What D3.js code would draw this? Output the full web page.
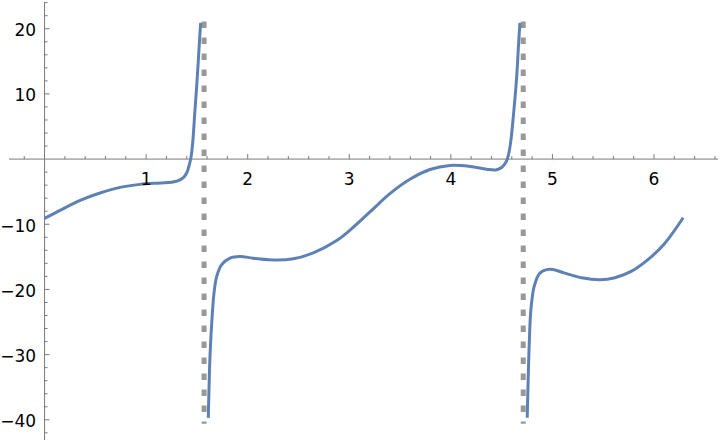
<!DOCTYPE html>
<html>
<head>
<meta charset="utf-8">
<script src="https://cdn.jsdelivr.net/npm/d3@7"></script>
<style>
  body { margin: 0; background: #fff; }
  text { font-family: "DejaVu Sans", sans-serif; font-size: 17px; fill: #000; }
</style>
</head>
<body>
<div id="chart-root"></div>
<script>
// curve pieces, split at the exclusions
const branchLeft = [
  [0, -9.1], [0.153, -7.86], [0.35, -6.34], [0.546, -5.21], [0.743, -4.34],
  [0.94, -3.88], [1.137, -3.67], [1.25, -3.55], [1.31, -3.35], [1.366, -2.85],
  [1.40, -2.1], [1.425, -0.9], [1.442, 0.3], [1.459, 2.6], [1.481, 7.55],
  [1.504, 12.65], [1.524, 17.8], [1.537, 20.9],
]
const branchMiddle = [
  [1.612, -39.7], [1.619, -35.3], [1.629, -30.2], [1.646, -25.1], [1.668, -20.6],
  [1.695, -18.0], [1.744, -16.2], [1.826, -15.2], [1.924, -14.96], [2.055, -15.2],
  [2.285, -15.5], [2.449, -15.3], [2.646, -14.4], [2.876, -12.5], [3.007, -10.9],
  [3.204, -8.1], [3.40, -5.3], [3.597, -3.1], [3.794, -1.6], [3.99, -0.98],
  [4.188, -1.13], [4.352, -1.55], [4.44, -1.66], [4.50, -1.3], [4.544, -0.4],
  [4.565, 0.5], [4.589, 2.6], [4.621, 7.55], [4.648, 12.6], [4.667, 17.7],
  [4.680, 20.9],
]
const branchRight = [
  [4.752, -39.7], [4.762, -33.3], [4.772, -28.2], [4.788, -23.1], [4.821, -19.5],
  [4.877, -17.5], [4.975, -16.9], [5.123, -17.5], [5.287, -18.2], [5.467, -18.5],
  [5.615, -18.2], [5.78, -17.2], [5.943, -15.4], [6.107, -12.9], [6.287, -9.0],
]
const exclusions = [1.5708, 4.7124]
const exclusionSpan = [-40.6, 21.1]

const xTickLabels = [1, 2, 3, 4, 5, 6]
const yTickLabels = [-40, -30, -20, -10, 10, 20]

const width = 720,
  height = 442

const svg = d3.select("#chart-root")
  .append("svg")
    .attr("width", width)
    .attr("height", height)

// Scales
const x = d3.scaleLinear()
  .domain([-0.35, 6.63])
  .range([9, 718])

const y = d3.scaleLinear()
  .domain([-43.1, 24.1])
  .range([440, 2])

const x0 = x(0), y0 = y(0)
const axisColor = "#7a7a7a"

// Axes
const axes = svg.append("g")

axes.append("line")
  .attr("x1", x.range()[0]).attr("x2", x.range()[1])
  .attr("y1", y0).attr("y2", y0)
  .attr("stroke", axisColor)

axes.append("line")
  .attr("x1", x0).attr("x2", x0)
  .attr("y1", y.range()[1]).attr("y2", y.range()[0])
  .attr("stroke", axisColor)

const xMinor = d3.range(-1, 34).map(i => i * 0.2).filter(v => Math.abs(v) > 1e-9)
const yMinor = d3.range(-21, 13).map(i => i * 2).filter(v => v !== 0)

axes.selectAll("line.xtick")
  .data(xMinor)
  .enter()
  .append("line")
  .classed("xtick", true)
  .attr("x1", d => x(d)).attr("x2", d => x(d))
  .attr("y1", y0)
  .attr("y2", d => y0 - (Math.abs(d - Math.round(d)) < 1e-6 ? 5 : 3))
  .attr("stroke", axisColor)

axes.selectAll("line.ytick")
  .data(yMinor)
  .enter()
  .append("line")
  .classed("ytick", true)
  .attr("y1", d => y(d)).attr("y2", d => y(d))
  .attr("x1", x0)
  .attr("x2", d => x0 + (d % 10 === 0 ? 5 : 3))
  .attr("stroke", axisColor)

// Exclusion lines
svg.selectAll("line.exclusion")
  .data(exclusions)
  .enter()
  .append("line")
  .classed("exclusion", true)
  .attr("x1", d => x(d)).attr("x2", d => x(d))
  .attr("y1", y(exclusionSpan[1]))
  .attr("y2", y(exclusionSpan[0]))
  .attr("stroke", "#999")
  .attr("stroke-width", 5)
  .attr("stroke-dasharray", "6.5,9.5")

// Curve
const line = d3.line()
  .x(d => x(d[0]))
  .y(d => y(d[1]))
  .curve(d3.curveCatmullRom.alpha(0.5))

svg.selectAll("path.branch")
  .data([branchLeft, branchMiddle, branchRight])
  .enter()
  .append("path")
  .classed("branch", true)
  .attr("fill", "none")
  .attr("stroke", "#5E81B5")
  .attr("stroke-width", 3)
  .attr("d", line)

// Tick labels
const fmt = d => d < 0 ? "\u2212" + Math.abs(d) : String(d)

svg.selectAll("text.xlabel")
  .data(xTickLabels)
  .enter()
  .append("text")
  .classed("xlabel", true)
  .attr("x", d => x(d))
  .attr("y", y0 + 25.7)
  .attr("text-anchor", "middle")
  .text(fmt)

svg.selectAll("text.ylabel")
  .data(yTickLabels)
  .enter()
  .append("text")
  .classed("ylabel", true)
  .attr("x", x0 - 8.5)
  .attr("y", d => y(d) + 7.3)
  .attr("text-anchor", "end")
  .text(fmt)
</script>
</body>
</html>
